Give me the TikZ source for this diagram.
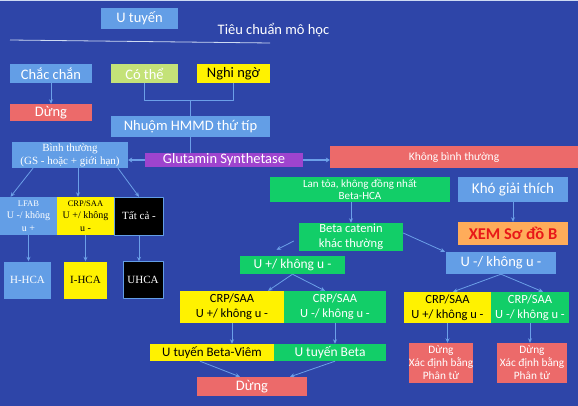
\documentclass[tikz,border=0pt]{standalone}
\usepackage{fontspec}
\setmainfont{Carlito}
\newfontfamily\tnr{Liberation Serif}
\usetikzlibrary{arrows.meta}
\definecolor{bgblue}{RGB}{46,69,168}
\definecolor{lblue}{RGB}{99,158,230}
\definecolor{salmon}{RGB}{236,106,106}
\definecolor{gre}{RGB}{18,206,104}
\definecolor{yel}{RGB}{255,242,0}
\definecolor{lime}{RGB}{196,226,120}
\definecolor{purp}{RGB}{158,68,206}
\definecolor{orng}{RGB}{255,172,90}
\definecolor{xred}{RGB}{232,24,24}
\definecolor{arrc}{RGB}{108,160,232}
\definecolor{rulec}{RGB}{205,218,242}
\newcommand\fs[2]{\fontsize{#1}{#2}\selectfont}
\begin{document}
\begin{tikzpicture}[x=1pt, y=-1pt, line join=round, >={Stealth[length=4.5pt,width=4pt]},
  box/.style={inner sep=0pt, align=center, text=white, font=\fs{14.5}{16}},
  sbox/.style={box, font=\tnr\fs{10}{12.5}},
  arr/.style={->, draw=arrc, line width=0.8pt},
  lnk/.style={draw=arrc, line width=0.8pt}]
\useasboundingbox (0,0) rectangle (578,406);
\fill[bgblue] (0,0) rectangle (578,406);
\fill[rulec] (0,0) rectangle (578,1.2);
% head
\node[box, fill=lblue, minimum width=77pt, minimum height=21pt] (ut) at (139.5,18.5) {U tuyến};
\node[box] (tc) at (273.5,30) {Tiêu chuẩn mô học};
\draw[rulec, line width=0.8pt] (10,40) -- (270,43);
% criteria
\node[box, fill=lblue, minimum width=82pt, minimum height=19pt] (cc) at (51,73.5) {Chắc chắn};
\node[box, fill=lime, minimum width=67pt, minimum height=19pt] (ct) at (144.5,73.5) {Có thể};
\node[box, fill=yel, text=black, minimum width=73pt, minimum height=19pt] (ng) at (233.5,73.5) {Nghi ngờ};
\node[box, fill=salmon, minimum width=82pt, minimum height=17pt] (d1) at (51,112.5) {Dừng};
\node[box, fill=lblue, minimum width=159pt, minimum height=21pt] (nh) at (190.5,126.5) {Nhuộm HMMD thứ típ};
\coordinate (j) at (190.5,100);
\draw[arr] (cc) -- (d1);
\draw[lnk] (ct.south) -- (ct.south |- j) -| (ng.south);
\draw[lnk] (j) -- (nh.north);
% glutamin synthetase
\node[box, fill=purp, minimum width=158pt, minimum height=14pt] (gs) at (224,160) {Glutamin Synthetase};
\node[sbox, fill=lblue, font=\tnr\fs{11}{13}, minimum width=116pt, minimum height=26pt] (bt) at (70,155) {Bình thường\\(GS - hoặc + giới hạn)};
\node[box, fill=salmon, font=\fs{11.5}{13}, minimum width=248pt, minimum height=22pt] (kbt) at (454,157) {Không bình thường};
\draw[lnk] (nh.south) -- (nh.south |- gs.north);
\draw[arr, line width=1.8pt, >={Stealth[length=4pt,width=5pt]}] (gs.west) -- (gs.west -| bt.east);
\draw[arr, line width=1.8pt, >={Stealth[length=4pt,width=5pt]}] (gs.east) -- (gs.east -| kbt.west);
% normal branch
\node[sbox, fill=lblue, minimum width=57pt, minimum height=38pt] (lf) at (28.5,216) {{\fs{8.5}{12.5}LFAB}\\U -/ không\\u +};
\node[sbox, fill=yel, text=black, minimum width=57pt, minimum height=38pt] (cs) at (85.5,216) {{\fs{8.5}{12.5}CRP/SAA}\\U +/ không\\u -};
\node[sbox, fill=black, draw=lblue, font=\tnr\fs{11}{13}, minimum width=49pt, minimum height=38pt] (ta) at (139,216) {Tất cả -};
\node[sbox, fill=lblue, font=\tnr\fs{11}{13}, minimum width=47pt, minimum height=37pt] (hh) at (27.5,280) {H-HCA};
\node[sbox, fill=yel, text=black, font=\tnr\fs{11}{13}, minimum width=43pt, minimum height=37pt] (ih) at (85.5,280) {I-HCA};
\node[sbox, fill=black, draw=lblue, font=\tnr\fs{11}{13}, minimum width=40pt, minimum height=37pt] (uh) at (143,280) {UHCA};
\draw[arr] ([xshift=-37pt]bt.south) -- ([xshift=-18pt]lf.north);
\draw[arr] ([xshift=8pt]bt.south) -- ([xshift=-7.5pt]cs.north);
\draw[arr] ([xshift=48pt]bt.south) -- (ta.north);
\draw[arr] (lf.south) -- (lf.south |- hh.north);
\draw[arr] (cs) -- (ih);
\draw[arr] (ta.south) -- (ta.south |- uh.north);
% abnormal branch
\node[box, fill=gre, font=\fs{11}{12.5}, minimum width=180pt, minimum height=25pt] (lt) at (360,189.5) {Lan tỏa, không đồng nhất\\Beta-HCA};
\node[box, fill=lblue, font=\fs{15}{17}, minimum width=110pt, minimum height=25pt] (kg) at (513,189.5) {Khó giải thích};
\node[box, fill=orng, text=xred, font=\bfseries\fs{16.5}{18}, minimum width=110pt, minimum height=23pt] (xem) at (513,233.5) {XEM Sơ đồ B};
\node[box, fill=gre, font=\fs{12.5}{15}, minimum width=104pt, minimum height=28pt] (bc) at (351,237) {Beta catenin\\khác thường};
\node[box, fill=gre, font=\fs{13.5}{15}, minimum width=105pt, minimum height=18pt] (up) at (292.5,265) {U +/ không u -};
\node[box, fill=lblue, minimum width=110pt, minimum height=22pt] (um) at (501,263) {U -/ không u -};
\draw[arr] (bc.north |- lt.south) -- (bc.north);
\draw[arr] (kg) -- (xem);
\draw[arr] ([xshift=-5pt,yshift=-4pt]bc.west) -- ([xshift=-16pt,yshift=6pt]up.north);
\draw[arr] ([yshift=4pt]bc.east) -- ([xshift=-56pt]um.north);
% CRP/SAA level
\node[box, fill=yel, text=black, font=\fs{12.5}{15}, minimum width=104pt, minimum height=32pt] (c1) at (232,307) {CRP/SAA\\U +/ không u -};
\node[box, fill=gre, font=\fs{12.5}{15}, minimum width=102pt, minimum height=32pt] (c2) at (335,307) {CRP/SAA\\U -/ không u -};
\node[box, fill=yel, text=black, font=\fs{12.5}{15}, minimum width=87pt, minimum height=31pt] (c3) at (447.5,307.5) {CRP/SAA\\U +/ không u -};
\node[box, fill=gre, font=\fs{12.5}{15}, minimum width=78pt, minimum height=31pt] (c4) at (530,307.5) {CRP/SAA\\U -/ không u -};
\draw[arr] (up.south) -- ([xshift=36pt]c1.north);
\draw[arr] (up.south) -- ([xshift=-10pt]c2.north);
\draw[arr] (um.south) -- ([xshift=5.5pt]c3.north);
\draw[arr] (um.south) -- ([xshift=13pt]c4.north);
% results
\node[box, fill=yel, text=black, font=\fs{13}{15}, minimum width=124pt, minimum height=17pt] (bv) at (212,352.5) {U tuyến Beta-Viêm};
\node[box, fill=gre, font=\fs{13.5}{15}, minimum width=112pt, minimum height=17pt] (bb) at (330,352.5) {U tuyến Beta};
\node[box, fill=salmon, minimum width=110pt, minimum height=19pt] (d2) at (252,386.5) {Dừng};
\node[box, fill=salmon, font=\fs{11.3}{13}, minimum width=64pt, minimum height=40pt] (m1) at (441,363) {Dừng\\Xác định bằng\\Phân tử};
\node[box, fill=salmon, font=\fs{11.3}{13}, minimum width=70pt, minimum height=40pt] (m2) at (532,363) {Dừng\\Xác định bằng\\Phân tử};
\draw[arr] (c1.south) -- (c1.south |- bv.north);
\draw[arr] (c2.south) -- (c2.south |- bb.north);
\draw[arr] (c3.south) -- (c3.south |- m1.north);
\draw[arr] (c4.south) -- (c4.south |- m2.north);
\draw[arr] ([xshift=-12pt]bv.south) -- ([xshift=-12pt]d2.north);
\draw[arr] ([xshift=5pt]bb.south) -- ([xshift=38pt]d2.north);
\end{tikzpicture}
\end{document}
